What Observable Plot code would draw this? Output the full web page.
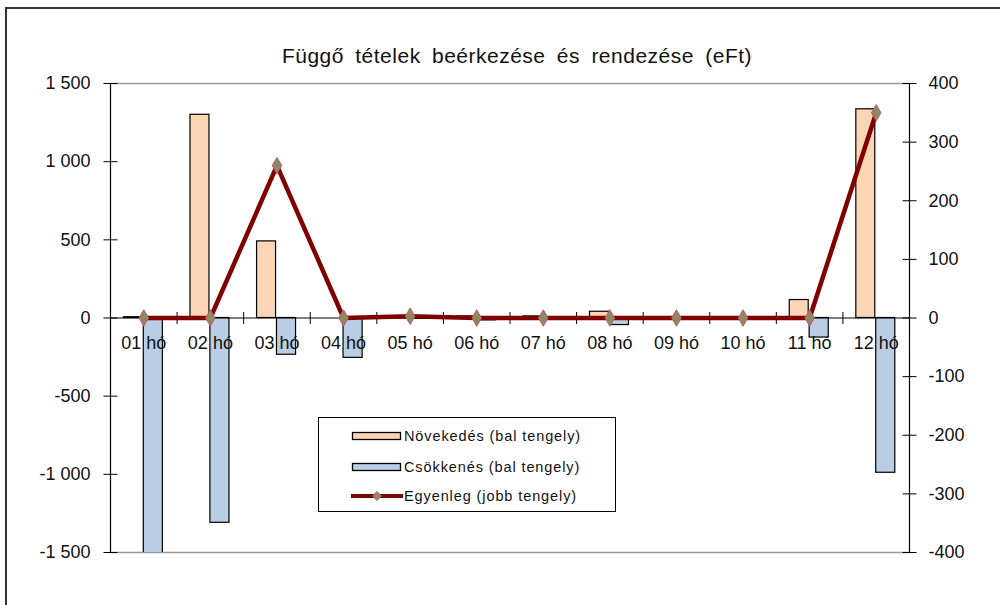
<!DOCTYPE html>
<html>
<head>
<meta charset="utf-8">
<script src="https://cdn.jsdelivr.net/npm/d3@7"></script>
<script src="https://cdn.jsdelivr.net/npm/@observablehq/plot@0.6"></script>
<style>
  html, body { margin: 0; padding: 0; background: #fff; }
  #wrap { position: relative; width: 1000px; height: 605px; overflow: hidden; font-family: "Liberation Sans", Arial, sans-serif; }
  #border { position: absolute; left: 5px; top: 7px; width: 1100px; height: 700px; border-top: 2px solid #333; border-left: 2px solid #333; }
  #title { position: absolute; left: 0; width: 1034px; top: 44px; text-align: center; font-size: 21px; letter-spacing: 0.5px; word-spacing: 5px; color: #111; }
  #chart { position: absolute; left: 0; top: 0; }
  #legend { position: absolute; left: 318px; top: 417px; width: 296px; height: 93px; border: 1px solid #000; background: #fff; font-size: 14.5px; letter-spacing: 0.9px; color: #111; }
  .row { position: absolute; left: 32px; height: 20px; display: flex; align-items: center; white-space: nowrap; }
  .row svg { margin-right: 1px; }
</style>
</head>
<body>
<div id="wrap">
  <div id="border"></div>
  <div id="chart"></div>
  <div id="title">Függő tételek beérkezése és rendezése (eFt)</div>
  <div id="legend"></div>
</div>
<script>
// ---- data ----
const months = ["01 hó", "02 hó", "03 hó", "04 hó", "05 hó", "06 hó", "07 hó", "08 hó", "09 hó", "10 hó", "11 hó", "12 hó"];
const novekedes = [5, 1300, 490, 0, 5, 10, 10, 40, 0, 0, 115, 1335];
const csokkenes = [-1560, -1310, -235, -255, -5, -15, -2, -45, 0, 0, -125, -990];
const egyenleg = [0, 0, 260, 0, 3, 0, 0, 0, 0, 0, 0, 350];
const leftTicks = [-1500, -1000, -500, 0, 500, 1000, 1500];
const rightTicks = [-400, -300, -200, -100, 0, 100, 200, 300, 400];
const seriesNames = ["Növekedés (bal tengely)", "Csökkenés (bal tengely)", "Egyenleg (jobb tengely)"];

const data = months.map((m, i) => ({month: m, inc: novekedes[i], dec: csokkenes[i], bal: egyenleg[i]}));

const W = 1000, H = 605, mL = 110, mR = 91, mT = 83, mB = 53;
const bw = (W - mL - mR) / months.length;
const leftMax = leftTicks[leftTicks.length - 1];
const rightMax = rightTicks[rightTicks.length - 1];
const ratio = leftMax / rightMax; // right axis -> left axis units

const fmt = v => (v < 0 ? "-" : "") + String(Math.abs(v)).replace(/\B(?=(\d{3})+(?!\d))/g, " ");

const hTick = {draw(ctx) { ctx.moveTo(-7, 0); ctx.lineTo(7, 0); }};
const vTick = {draw(ctx) { ctx.moveTo(0, -6); ctx.lineTo(0, 6); }};

const orange = "#FCD5B5", blue = "#B9CDE5", maroon = "#800000";

const chart = Plot.plot({
  width: W, height: H,
  marginLeft: mL, marginRight: mR, marginTop: mT, marginBottom: mB,
  style: {fontFamily: "'Liberation Sans', Arial, sans-serif", fontSize: "18px", color: "#111", background: "transparent"},
  x: {type: "band", domain: months, padding: 0, round: false, axis: null},
  y: {domain: [-leftMax, leftMax]},
  marks: [
    Plot.ruleY([-leftMax, leftMax], {stroke: "#999", strokeWidth: 1.5}),
    Plot.barY(data, {x: "month", y: "inc", fill: orange, stroke: "#000", strokeWidth: 1.2, insetLeft: 13.4, insetRight: 34.2, clip: true}),
    Plot.barY(data, {x: "month", y: "dec", fill: blue, stroke: "#000", strokeWidth: 1.2, insetLeft: 33.3, insetRight: 14.2, clip: true}),
    Plot.ruleY([0], {stroke: "#000", strokeWidth: 1}),
    Plot.dot(months, {x: d => d, y: 0, dx: bw / 2, symbol: vTick, stroke: "#000", strokeWidth: 1}),
    Plot.frame({anchor: "left", stroke: "#000", strokeWidth: 1.2}),
    Plot.frame({anchor: "right", stroke: "#000", strokeWidth: 1.2}),
    Plot.dot(leftTicks, {y: d => d, frameAnchor: "left", symbol: hTick, stroke: "#000", strokeWidth: 1}),
    Plot.dot(rightTicks, {y: d => d * ratio, frameAnchor: "right", symbol: hTick, stroke: "#000", strokeWidth: 1}),
    Plot.axisY({anchor: "left", ticks: leftTicks, tickFormat: fmt, tickSize: 0, tickPadding: 20, label: null}),
    Plot.axisY({anchor: "right", ticks: rightTicks.map(v => v * ratio), tickFormat: v => fmt(Math.round(v / ratio)), tickSize: 0, tickPadding: 19, label: null}),
    Plot.text(months, {x: d => d, y: 0, dy: 25, text: d => d, fill: "#111"}),
    Plot.line(data, {x: "month", y: d => d.bal * ratio, stroke: maroon, strokeWidth: 4.5}),
    Plot.dot(data, {x: "month", y: d => d.bal * ratio, symbol: "diamond", r: 5, fill: "#8E8A5A", stroke: "#C2577E", strokeWidth: 1})
  ]
});
document.getElementById("chart").appendChild(chart);

// ---- legend ----
const legend = document.getElementById("legend");
const rowsTop = [8, 39, 68];
seriesNames.forEach((name, i) => {
  const row = document.createElement("div");
  row.className = "row";
  row.style.top = rowsTop[i] + "px";
  let sw;
  if (i < 2) {
    sw = `<svg width="52" height="12"><rect x="1.5" y="2.5" width="48" height="7" fill="${i === 0 ? orange : blue}" stroke="#000" stroke-width="1.3"/></svg>`;
  } else {
    sw = `<svg width="52" height="12"><line x1="0" y1="6" x2="52" y2="6" stroke="${maroon}" stroke-width="4"/><path d="M26,1.5 L30.5,6 L26,10.5 L21.5,6 Z" fill="#8E8A5A" stroke="#C2577E" stroke-width="1"/></svg>`;
  }
  row.innerHTML = sw + `<span>${name}</span>`;
  legend.appendChild(row);
});
</script>
</body>
</html>
